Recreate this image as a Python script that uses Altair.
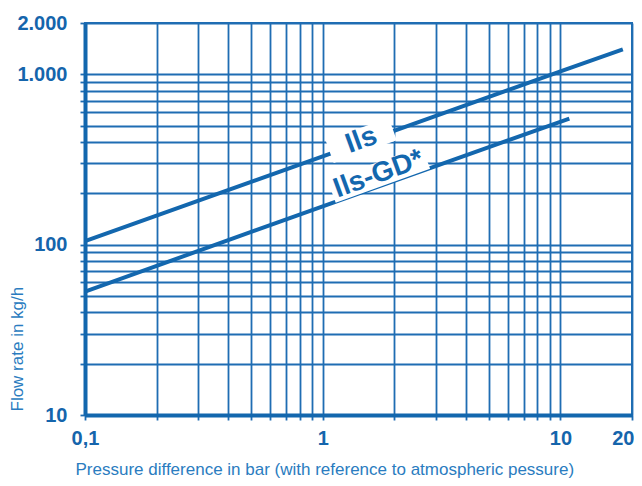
import altair as alt
import pandas as pd

# ---- data ----
ils_pressure = [0.1, 1, 10, 18.3]
ils_flow = [105, 330, 1040, 1400]
gd_pressure = [0.1, 1, 10.9]
gd_flow = [53, 168, 550]

x_grid = [0.1, 0.2, 0.3, 0.4, 0.5, 0.6, 0.7, 0.8, 0.9, 1, 2, 3, 4, 5, 6, 7, 8, 9, 10, 20]
y_grid = [10, 20, 30, 40, 50, 60, 70, 80, 90, 100, 200, 300, 400, 500, 600, 700, 800, 900, 1000, 2000]

# annotation labels (text, centre, and white backing strip)
label_text = ["Ils", "Ils-GD*"]
label_x = [1.455, 1.72]
label_y = [409, 259]
box_x0 = [1.07, 1.09]
box_y0 = [351, 205]
box_x1 = [1.97, 2.72]
box_y1 = [477, 325]

BLUE = "#1367ae"
GRID = "#1f6db3"
TEXT = "#1565ac"
TITLE = "#2a7cc0"
FONT = "Liberation Sans Narrow, Arial Narrow, Liberation Sans, Arial"

series = pd.DataFrame(
    {"p": ils_pressure + gd_pressure,
     "q": ils_flow + gd_flow,
     "s": ["Ils"] * len(ils_pressure) + ["Ils-GD*"] * len(gd_pressure)}
)
labels = pd.DataFrame({"t": label_text, "x": label_x, "y": label_y,
                       "x0": box_x0, "y0": box_y0, "x1": box_x1, "y1": box_y1})

x_labels = ("datum.value == 0.1 ? '0,1' : datum.value == 1 ? '1' : "
            "datum.value == 10 ? '10' : datum.value == 20 ? '20' : ''")
y_labels = ("datum.value == 10 ? '10' : datum.value == 100 ? '100' : "
            "datum.value == 1000 ? '1.000' : datum.value == 2000 ? '2.000' : ''")

xscale = alt.Scale(type="log", domain=[0.1, 20], nice=False)
yscale = alt.Scale(type="log", domain=[10, 2000], nice=False)

xaxis = alt.Axis(
    values=x_grid, labelExpr=x_labels, labelOverlap=False, labelFlush=False,
    labelAlign={"condition": {"test": "datum.value == 20", "value": "right"}, "value": "center"},
    labelOffset={"condition": {"test": "datum.value == 20", "value": 2}, "value": 0},
    labelFont=FONT, labelFontWeight="bold", labelFontSize=20, labelColor=TEXT,
    labelPadding=8, tickSize=5, tickColor=GRID, tickWidth=1.8,
    grid=True, gridColor=GRID, gridWidth=1.8, gridOpacity=1,
    domainColor=BLUE, domainWidth=4,
    title="Pressure difference in bar (with reference to atmospheric pessure)",
    titleFont=FONT, titleFontWeight="normal", titleFontSize=17, titleColor=TITLE,
    titleAnchor="start", titleAlign="left", titleBaseline="alphabetic",
    titleX=-10, titleY=59,
)
yaxis = alt.Axis(
    values=y_grid, labelExpr=y_labels, labelOverlap=False, labelFlush=False,
    labelFont=FONT, labelFontWeight="bold", labelFontSize=20, labelColor=TEXT,
    labelPadding=13, tickSize=5, tickColor=GRID, tickWidth=1.8,
    grid=True, gridColor=GRID, gridWidth=1.8, gridOpacity=1,
    domainColor=BLUE, domainWidth=4,
    title="Flow rate in kg/h",
    titleFont=FONT, titleFontWeight="normal", titleFontSize=17, titleColor=TITLE,
    titleAngle=270, titleAlign="left", titleBaseline="alphabetic",
    titleX=-63, titleY=388,
)

lines = alt.Chart(series).mark_line(color=BLUE, strokeWidth=4).encode(
    x=alt.X("p:Q", scale=xscale, axis=xaxis),
    y=alt.Y("q:Q", scale=yscale, axis=yaxis),
    detail="s:N",
)

boxes = alt.Chart(labels).mark_rule(color="white", strokeWidth=24, strokeCap="butt").encode(
    x=alt.X("x0:Q", scale=xscale),
    y=alt.Y("y0:Q", scale=yscale),
    x2="x1:Q",
    y2="y1:Q",
)

texts = alt.Chart(labels).mark_text(
    color=BLUE, font=FONT, fontWeight="bold", fontSize=28,
    angle=340, align="center", baseline="middle",
).encode(
    x=alt.X("x:Q", scale=xscale),
    y=alt.Y("y:Q", scale=yscale),
    text="t:N",
)

chart = alt.layer(lines, boxes, texts).properties(
    width=547, height=392,
    autosize=alt.AutoSizeParams(type="none"),
    padding={"left": 77, "top": 15, "right": 2, "bottom": 63},
).configure_view(stroke=GRID, strokeWidth=2)

chart.save("out.html", embed_options={"renderer": "svg", "actions": False})
